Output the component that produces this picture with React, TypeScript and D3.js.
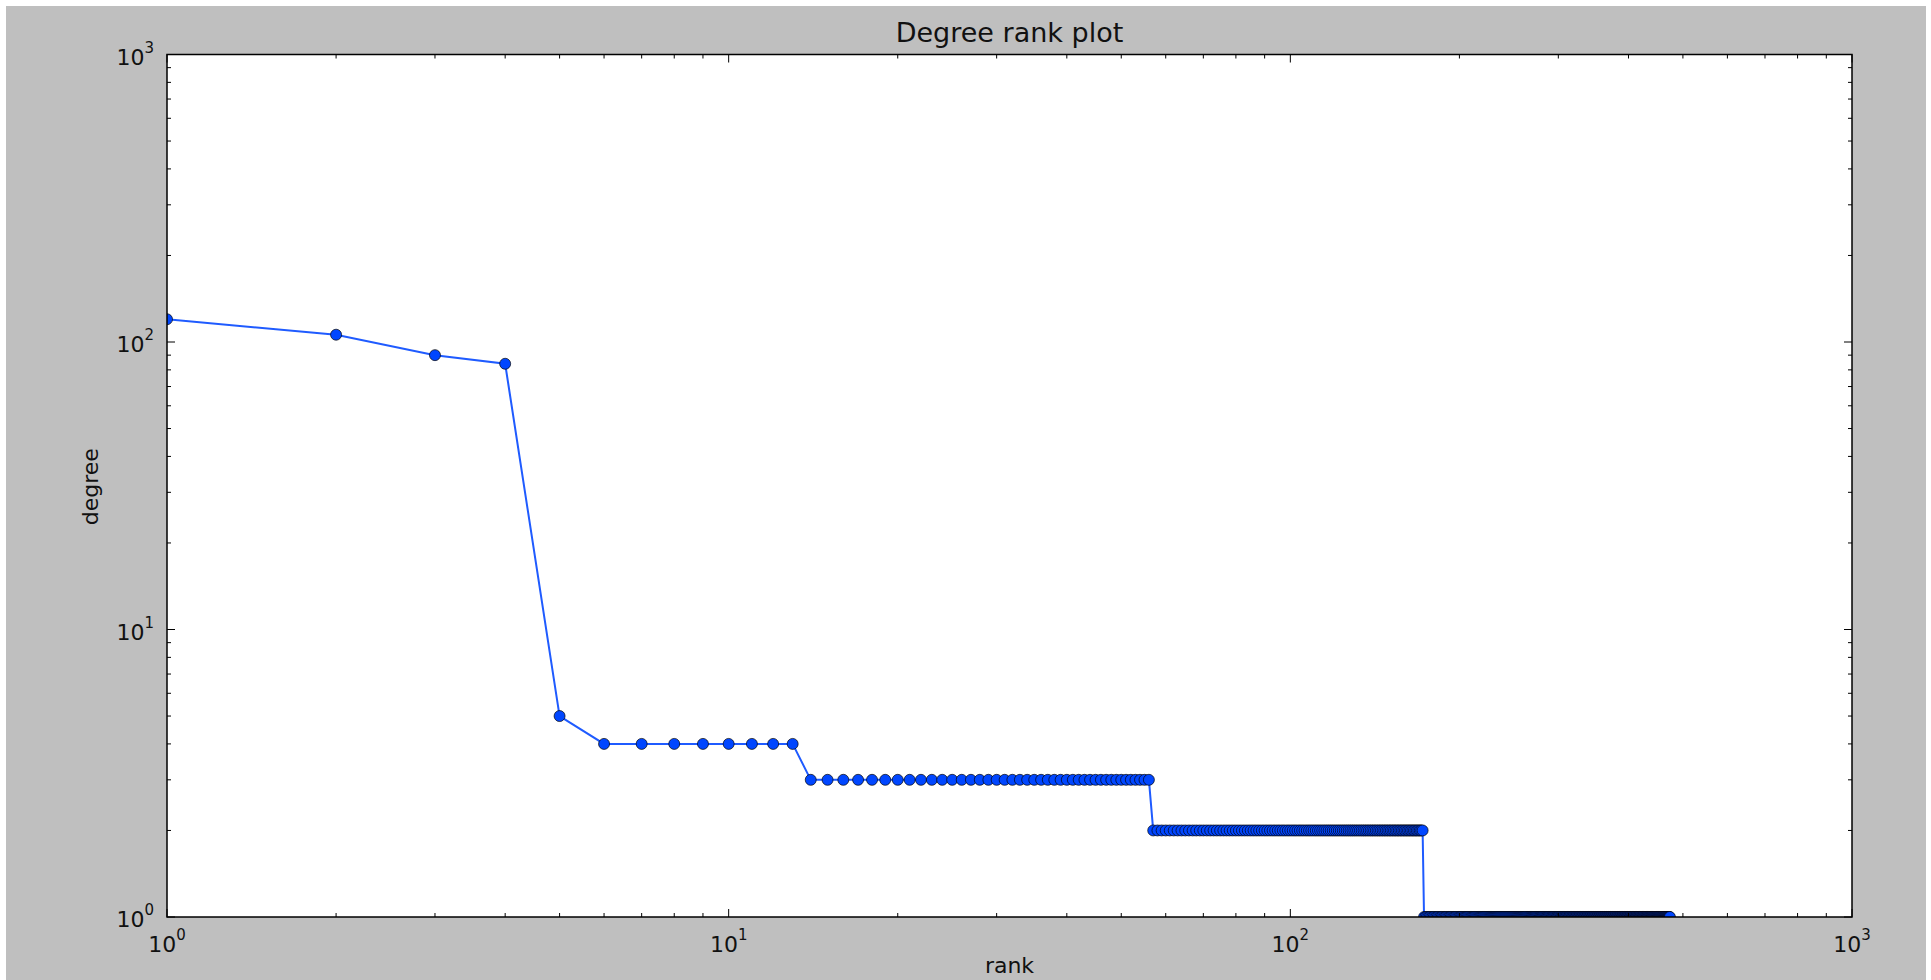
import React from "react";
import * as d3 from "d3";

// degree sequence (sorted descending, rank = position + 1)
const leadDegrees = [120, 106, 90, 84, 5];
const plateauDegrees = [4, 3, 2, 1];
const plateauCounts = [8, 43, 116, 302];

const majorTicks = [1, 10, 100, 1000];
const tickExponents = ["0", "1", "2", "3"];

const W = 1931;
const H = 980;
const plot = { left: 167, right: 1852, top: 54.5, bottom: 917 };
const FONT = "'DejaVu Sans', Verdana, sans-serif";

const degrees: number[] = [...leadDegrees];
plateauDegrees.forEach((d, i) => {
  for (let k = 0; k < plateauCounts[i]; k++) degrees.push(d);
});
const points = degrees.map((d, i) => ({ rank: i + 1, degree: d }));

const App = () => {
  const x = d3.scaleLog().domain([1, 1000]).range([plot.left, plot.right]);
  const y = d3.scaleLog().domain([1, 1000]).range([plot.bottom, plot.top]);

  const minor: number[] = [];
  [1, 10, 100].forEach((base) => {
    for (let m = 2; m <= 9; m++) minor.push(base * m);
  });

  const line = d3
    .line<{ rank: number; degree: number }>()
    .x((d) => x(d.rank))
    .y((d) => y(d.degree));

  const pw = plot.right - plot.left;
  const ph = plot.bottom - plot.top;

  return (
    <div style={{ position: "absolute", left: 0, top: 0 }}>
      <svg width={W} height={H} style={{ display: "block" }}>
        <defs>
          <clipPath id="plotClip">
            <rect x={plot.left} y={plot.top} width={pw} height={ph} />
          </clipPath>
        </defs>
        <rect x={0} y={0} width={W} height={H} fill="#ffffff" />
        <rect x={6} y={6} width={1920} height={H} fill="#bfbfbf" />
        <rect x={plot.left} y={plot.top} width={pw} height={ph} fill="#ffffff" />

        <g clipPath="url(#plotClip)">
          <path d={line(points) || ""} fill="none" stroke="#1f5bff" strokeWidth={2} />
          {points.map((p, i) => (
            <circle
              key={i}
              cx={x(p.rank)}
              cy={y(p.degree)}
              r={5.5}
              fill="#0046ff"
              stroke="#000000"
              strokeOpacity={0.75}
              strokeWidth={0.9}
            />
          ))}
        </g>

        {/* ticks, pointing inward on all four sides */}
        <g stroke="#000" strokeWidth={1}>
          {majorTicks.map((t) => (
            <g key={"M" + t}>
              <line x1={x(t)} x2={x(t)} y1={plot.bottom} y2={plot.bottom - 8} />
              <line x1={x(t)} x2={x(t)} y1={plot.top} y2={plot.top + 8} />
              <line x1={plot.left} x2={plot.left + 8} y1={y(t)} y2={y(t)} />
              <line x1={plot.right} x2={plot.right - 8} y1={y(t)} y2={y(t)} />
            </g>
          ))}
          {minor.map((t) => (
            <g key={"m" + t}>
              <line x1={x(t)} x2={x(t)} y1={plot.bottom} y2={plot.bottom - 4} />
              <line x1={x(t)} x2={x(t)} y1={plot.top} y2={plot.top + 4} />
              <line x1={plot.left} x2={plot.left + 4} y1={y(t)} y2={y(t)} />
              <line x1={plot.right} x2={plot.right - 4} y1={y(t)} y2={y(t)} />
            </g>
          ))}
        </g>

        <rect
          x={plot.left}
          y={plot.top}
          width={pw}
          height={ph}
          fill="none"
          stroke="#000"
          strokeWidth={1.5}
        />

        {/* tick labels */}
        <g fontFamily={FONT} fill="#111">
          {majorTicks.map((t, i) => (
            <text key={"xl" + t} x={x(t)} y={plot.bottom + 35} textAnchor="middle" fontSize={22}>
              10
              <tspan fontSize={15} dy={-12}>
                {tickExponents[i]}
              </tspan>
            </text>
          ))}
          {majorTicks.map((t, i) => (
            <text key={"yl" + t} x={plot.left - 13} y={y(t) + 10} textAnchor="end" fontSize={22}>
              10
              <tspan fontSize={15} dy={-12}>
                {tickExponents[i]}
              </tspan>
            </text>
          ))}
        </g>

        <text
          x={(plot.left + plot.right) / 2}
          y={42}
          textAnchor="middle"
          fontFamily={FONT}
          fontSize={27}
          fill="#111"
        >
          Degree rank plot
        </text>
        <text
          x={(plot.left + plot.right) / 2}
          y={973}
          textAnchor="middle"
          fontFamily={FONT}
          fontSize={22}
          fill="#111"
        >
          rank
        </text>
        <text
          transform={`translate(98, ${(plot.top + plot.bottom) / 2 + 1}) rotate(-90)`}
          textAnchor="middle"
          fontFamily={FONT}
          fontSize={22}
          fill="#111"
        >
          degree
        </text>
      </svg>
    </div>
  );
};

export default App;
